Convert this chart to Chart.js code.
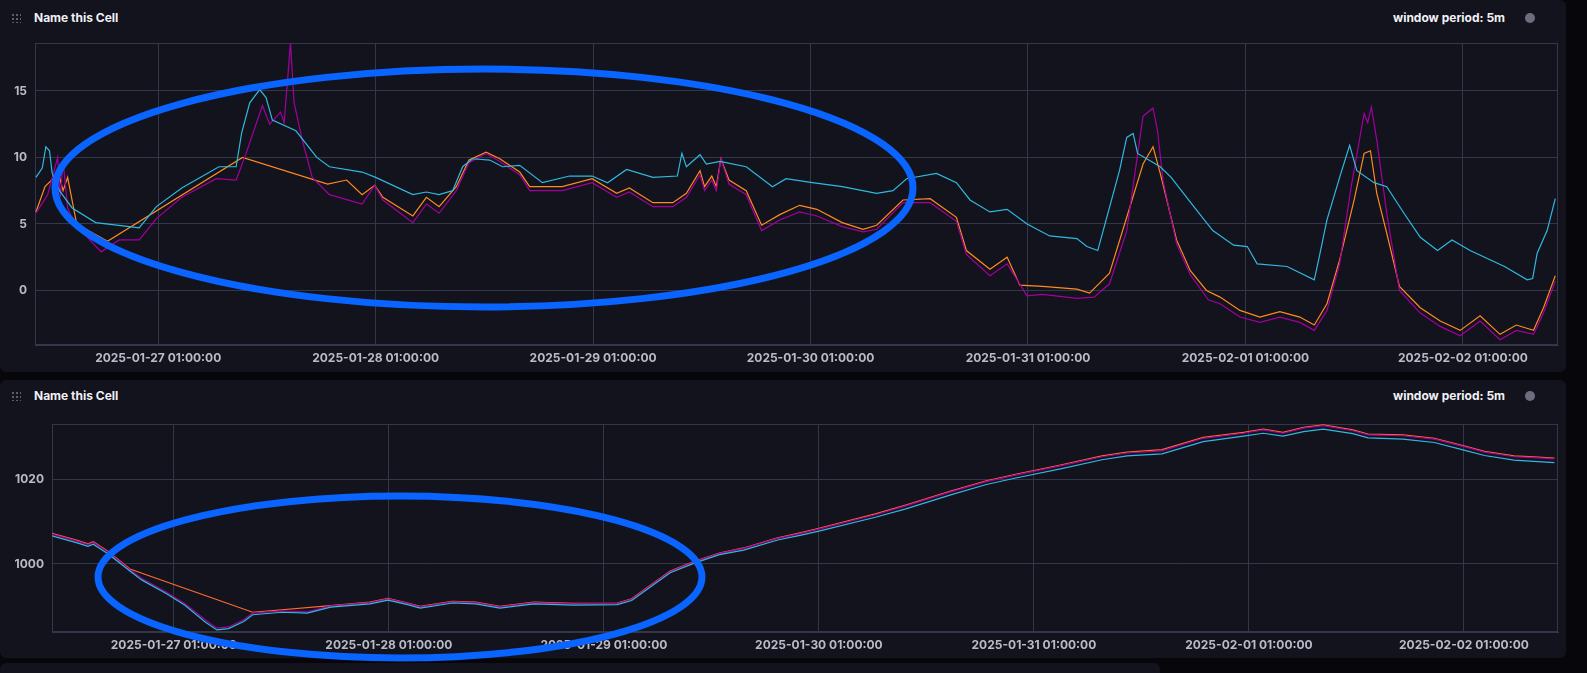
<!DOCTYPE html>
<html>
<head>
<meta charset="utf-8">
<script src="https://cdn.jsdelivr.net/npm/chart.js@4"></script>
<style>
    body { margin: 0; width: 1587px; height: 673px; background: #07070b; overflow: hidden; position: relative; font-family: Inter, "Open Sans", sans-serif; }
    .painel { position: absolute; left: 0; width: 1566px; background: #12131d; border-radius: 0 0 6px 6px; }
    .titulo { position: absolute; left: 34px; color: #f1f1f5; font-size: 12px; font-weight: 700; }
    .grip { position: absolute; left: 11px; width: 10px; height: 10px; background-image: radial-gradient(#5c5e70 1px, transparent 1.3px); background-size: 4px 4px; }
    .periodo { position: absolute; right: 61px; color: #f1f1f5; font-size: 12px; font-weight: 700; }
    .gear { position: absolute; left: 1525px; width: 10px; height: 10px; border-radius: 50%; border: 2px dotted #6c6e80; box-sizing: border-box; background: #6c6e80; }
    .chart { position: absolute; left: 0; width: 1566px; }
    svg { position: absolute; left: 0; top: 0; }
</style>
</head>
<body>
<div class="painel" style="top: 0; height: 372px; border-radius: 0 6px 6px 6px;">
    <div class="grip" style="top: 13px;"></div>
    <div class="titulo" style="top: 10px;">Name this Cell</div>
    <div class="periodo" style="top: 10px;">window period: 5m</div>
    <div class="gear" style="top: 13px;"></div>
</div>
<div class="painel" style="top: 380px; height: 278px; border-radius: 6px;">
    <div class="grip" style="top: 11px;"></div>
    <div class="titulo" style="top: 8px;">Name this Cell</div>
    <div class="periodo" style="top: 8px;">window period: 5m</div>
    <div class="gear" style="top: 11px;"></div>
</div>
<div class="painel" style="top: 663px; height: 20px; width: 1160px; border-radius: 6px;"></div>

<div class="chart" style="top: 43px; height: 330px;"><canvas id="chartTopo"></canvas></div>
<div class="chart" style="top: 424px; height: 236px;"><canvas id="chartBaixo"></canvas></div>

<svg width="1587" height="673">
    <ellipse cx="484" cy="188" rx="429" ry="119" fill="none" stroke="#0a64ff" stroke-width="7"/>
    <ellipse cx="400" cy="577" rx="302" ry="81" fill="none" stroke="#0a64ff" stroke-width="7"/>
</svg>

<script>
// horas a partir de 2025-01-27 01:00:00
const rotulosDias = ["2025-01-27 01:00:00", "2025-01-28 01:00:00", "2025-01-29 01:00:00", "2025-01-30 01:00:00",
    "2025-01-31 01:00:00", "2025-02-01 01:00:00", "2025-02-02 01:00:00"];

const topoCianoT = [-13.5, -12.8, -12.4, -12, -11.7, -10.9, -9.5, -6.9, -3.2, -2.1, -0.2, 2.6, 6.7, 8.6, 9.2, 10.1, 11.2, 11.9, 12.6, 15.2, 17.5, 18.9, 22.5, 24, 28.1, 29.6, 31, 32.5, 33.6, 34.7, 36.6, 38, 39.9, 42.4, 45.4, 47.9, 49.6, 51.7, 54.6, 57.3, 57.8, 58.3, 59.8, 60.5, 62, 64.9, 67.8, 69.3, 72.2, 75.5, 79.3, 81.1, 82.6, 85.9, 88.1, 89.6, 91.8, 93.7, 95.9, 98.4, 101.4, 102.5, 103.7, 104.3, 106.1, 106.9, 107.6, 108.1, 110.6, 111.8, 114.2, 115.7, 116.4, 118.7, 120.2, 121.3, 124.6, 127.6, 128.2, 129, 130.4, 131.5, 132.3, 134.2, 135.6, 137.5, 139.3, 141.2, 142.8, 144.8, 148.6, 151.1, 151.7, 152.2, 153.3, 154.2];
const topoCianoV = [8.5, 9.2, 10.8, 10.5, 8.8, 7.5, 6.2, 5.1, 4.8, 4.7, 6.3, 7.7, 9.3, 9.3, 11.8, 14.1, 15.1, 14.5, 12.8, 12.0, 10.0, 9.3, 8.9, 8.5, 7.2, 7.4, 7.2, 7.5, 9.3, 9.9, 9.8, 9.3, 9.4, 8.1, 8.6, 8.6, 8.1, 9.1, 8.5, 8.6, 10.3, 9.3, 10.2, 9.5, 9.7, 9.3, 7.8, 8.4, 8.1, 7.8, 7.3, 7.5, 8.4, 8.8, 8.1, 6.8, 5.9, 6.1, 5.0, 4.1, 3.9, 3.3, 3.0, 4.5, 9.0, 11.5, 11.8, 10.3, 9.3, 8.5, 6.4, 5.1, 4.5, 3.4, 3.3, 2.0, 1.8, 0.8, 2.7, 5.3, 8.5, 10.9, 9.0, 8.1, 7.8, 5.8, 4.0, 3.0, 3.8, 3.0, 1.8, 0.8, 0.9, 2.8, 4.5, 6.9];

const topoMagentaT = [-13.5, -12.2, -11.1, -10.8, -10.5, -10.0, -9.2, -6.3, -4.3, -2.1, -0.2, 2.6, 6.4, 8.6, 9.7, 11.5, 12.3, 13.5, 13.9, 14.6, 15.0, 15.9, 17, 18.9, 22.5, 23.9, 24.8, 28.1, 29.6, 31, 32.9, 34.3, 36.2, 37.7, 39.9, 41, 44.6, 47.9, 50.6, 52, 54.6, 56.8, 58.3, 59.8, 60.3, 61.1, 61.6, 62.1, 63, 64.9, 66.6, 68.6, 70.8, 72.7, 75.5, 77.8, 79.3, 82.2, 85.2, 88.1, 89.2, 91.8, 93.7, 95.9, 97.6, 101.4, 103.3, 105, 106.9, 108.7, 109.8, 110.3, 110.9, 112.4, 113.9, 115.9, 117.2, 119.4, 121.6, 123.8, 126, 127.6, 129, 130.4, 131.6, 133.1, 133.5, 133.9, 134.5, 135.6, 137, 139.3, 141.5, 143.7, 145.9, 148.1, 149.9, 151.8, 152.9, 154.2];
const topoMagentaV = [5.8, 7.2, 10.0, 7.0, 9.7, 6.2, 5.0, 2.9, 3.8, 3.8, 5.4, 7.0, 8.4, 8.3, 10.3, 13.9, 12.5, 13.4, 12.6, 18.6, 14.1, 11.3, 8.5, 7.2, 6.5, 7.9, 6.8, 5.1, 6.5, 5.8, 7.5, 9.6, 10.3, 9.7, 8.7, 7.5, 7.5, 8.1, 7.0, 7.4, 6.3, 6.3, 7.0, 8.7, 7.5, 8.3, 7.5, 9.9, 8.0, 7.2, 4.5, 5.3, 5.9, 5.6, 4.8, 4.4, 4.6, 6.6, 6.6, 5.2, 2.7, 1.1, 2.0, -0.4, -0.3, -0.6, -0.5, 0.5, 4.5, 13.1, 13.7, 12.0, 8.3, 3.5, 1.2, -0.7, -1.0, -2.0, -2.4, -2.0, -2.4, -3.0, -1.5, 2.0, 7.5, 13.3, 12.6, 13.8, 11.3, 5.8, 0.0, -1.7, -2.7, -3.4, -2.3, -3.7, -3.0, -3.3, -1.7, 0.7];

const topoLaranjaT = [-13.5, -12.5, -11, -10.5, -10, -9.0, -5.6, 9.3, 18.7, 20.8, 22.5, 23.9, 24.8, 28.1, 29.6, 31, 32.9, 34.3, 36.2, 37.7, 39.9, 41, 44.6, 47.9, 50.6, 52, 54.6, 56.8, 58.3, 59.8, 60.3, 61.1, 61.6, 62.1, 63, 64.9, 66.6, 68.6, 70.8, 72.7, 75.5, 77.8, 79.3, 82.2, 85.2, 88.1, 89.2, 91.8, 93.7, 95.1, 97.6, 101.4, 102.8, 105, 106.9, 108.7, 109.8, 110.6, 112.4, 113.9, 115.7, 117.2, 119.4, 121.6, 123.8, 126, 127.6, 129, 130.4, 132, 133.1, 133.8, 134.5, 135.6, 137, 139.3, 141.5, 143.7, 145.9, 148.1, 149.9, 151.8, 152.9, 154.2];
const topoLaranjaV = [5.9, 7.8, 8.8, 7.5, 8.5, 5.0, 3.7, 10.0, 8.0, 8.3, 7.2, 7.9, 7.0, 5.6, 7.0, 6.3, 7.8, 9.8, 10.4, 9.9, 8.9, 7.8, 7.8, 8.4, 7.3, 7.7, 6.6, 6.6, 7.3, 9.0, 7.8, 8.6, 7.8, 9.9, 8.3, 7.5, 4.9, 5.7, 6.4, 6.1, 5.1, 4.6, 4.9, 6.8, 6.9, 5.5, 3.0, 1.6, 2.5, 0.4, 0.3, 0.1, -0.2, 1.3, 5.5, 9.5, 10.8, 8.8, 3.8, 1.5, 0.0, -0.5, -1.5, -2.0, -1.6, -2.0, -2.6, -1.0, 2.3, 6.8, 10.3, 10.5, 7.3, 4.3, 0.3, -1.3, -2.3, -3.0, -1.9, -3.3, -2.6, -3.0, -1.3, 1.1];

const baixoT = [-13.6, -10.6, -9.6, -9, -7.4, -4.9, -3.6, -0.9, 1.2, 3.5, 4.8, 6.1, 7.8, 8.8, 12.1, 14.9, 17.5, 21.9, 23.9, 26.1, 27.5, 31.1, 33.7, 36.4, 40.2, 44.6, 49.5, 51.1, 55.4, 58.1, 60.9, 63.6, 67.4, 69.9, 72, 78.3, 81.7, 86.8, 90.7, 94.1, 99.1, 103.6, 106.4, 110.3, 114.9, 119.4, 121.6, 123.8, 126.1, 128.3, 131.6, 133.3, 137.2, 140.7, 144, 146.3, 149.6, 151.8, 154.1];
const baixoCianoV = [1006.7, 1004.9, 1004.2, 1004.7, 1002.5, 998.3, 996.2, 993.0, 990.2, 986.2, 984.3, 984.6, 986.3, 987.9, 988.5, 988.3, 989.7, 990.5, 991.4, 990.3, 989.5, 990.7, 990.5, 989.5, 990.5, 990.2, 990.3, 991.3, 997.9, 1000.2, 1002.2, 1003.3, 1005.7, 1006.8, 1007.8, 1011.1, 1013.1, 1016.5, 1018.9, 1020.5, 1022.7, 1024.8, 1025.7, 1026.2, 1029.1, 1030.4, 1031.1, 1030.4, 1031.5, 1032.1, 1031.0, 1030.0, 1029.7, 1028.9, 1027.1, 1025.8, 1024.7, 1024.4, 1024.1];
const baixoMagentaV = [1007.1, 1005.3, 1004.6, 1005.1, 1002.9, 998.6, 996.6, 993.4, 990.6, 986.7, 984.7, 985.0, 986.7, 988.3, 988.8, 988.6, 990.0, 990.8, 991.7, 990.6, 989.8, 991.0, 990.8, 989.8, 990.8, 990.5, 990.6, 991.6, 998.2, 1000.5, 1002.5, 1003.7, 1006.1, 1007.2, 1008.3, 1011.7, 1013.8, 1017.2, 1019.6, 1021.2, 1023.4, 1025.5, 1026.4, 1026.9, 1029.9, 1031.1, 1031.9, 1031.1, 1032.3, 1032.9, 1031.7, 1030.7, 1030.5, 1029.7, 1027.9, 1026.6, 1025.5, 1025.3, 1025.0];
const baixoLaranjaT = [-13.6, -10.6, -9.6, -9, -7.4, -4.9, 8.8, 17.5, 21.9, 23.9, 26.1, 27.5, 31.1, 33.7, 36.4, 40.2, 44.6, 49.5, 51.1, 55.4, 58.1, 60.9, 63.6, 67.4, 69.9, 72, 78.3, 81.7, 86.8, 90.7, 94.1, 99.1, 103.6, 106.4, 110.3, 114.9, 119.4, 121.6, 123.8, 126.1, 128.3, 131.6, 133.3, 137.2, 140.7, 144, 146.3, 149.6, 151.8, 154.1];
const baixoLaranjaV = [1007.3, 1005.5, 1004.8, 1005.3, 1003.1, 998.8, 988.5, 990.1, 990.9, 991.8, 990.7, 989.9, 991.1, 990.9, 989.9, 990.9, 990.6, 990.7, 991.7, 998.3, 1000.6, 1002.6, 1003.8, 1006.2, 1007.4, 1008.5, 1011.9, 1014.0, 1017.4, 1019.8, 1021.4, 1023.6, 1025.7, 1026.6, 1027.2, 1030.1, 1031.3, 1032.1, 1031.3, 1032.5, 1033.1, 1031.9, 1030.9, 1030.7, 1029.9, 1028.1, 1026.8, 1025.7, 1025.5, 1025.2];

const corCiano = "#2fb9e0";
const corMagenta = "#a3009e";
const corLaranja = "#ff8a1f";
const corGrade = "#34364a";
const corTexto = "#b9bcc8";

// moldura da área do gráfico (topo e direita)
const moldura = {
    id: 'moldura',
    beforeDatasetsDraw(chart) {
        const a = chart.chartArea;
        const ctx = chart.ctx;
        ctx.save();
        ctx.strokeStyle = corGrade;
        ctx.lineWidth = 1;
        ctx.strokeRect(a.left + 0.5, a.top + 0.5, a.right - a.left - 1, a.bottom - a.top - 1);
        ctx.restore();
    }
};

function juntar(t, v) {
    const pontos = [];
    for (let i = 0; i < t.length; i++) {
        pontos.push({ x: t[i], y: v[i] });
    }
    return pontos;
}

function serie(t, v, cor) {
    return { data: juntar(t, v), borderColor: cor, borderWidth: 1.2, pointRadius: 0, tension: 0, fill: false };
}

function criarGrafico(id, datasets, min, max, passo, larguraY) {
    return new Chart(document.getElementById(id), {
        type: 'line',
        data: { datasets },
        plugins: [moldura],
        options: {
            animation: false,
            responsive: true,
            maintainAspectRatio: false,
            layout: { padding: { right: 8, top: 0 } },
            plugins: { legend: { display: false }, tooltip: { enabled: false } },
            scales: {
                x: {
                    type: 'linear', min: -13.6, max: 154.5,
                    afterBuildTicks: (s) => { s.ticks = rotulosDias.map((r, i) => ({ value: i * 24 })); },
                    afterFit: (s) => { s.height = 28; s.paddingLeft = 0; s.paddingRight = 0; },
                    ticks: { color: corTexto, font: { family: 'Inter', size: 12, weight: '700' }, padding: 6, maxRotation: 0,
                        callback: (v) => rotulosDias[Math.round(v / 24)] },
                    grid: { color: corGrade, drawTicks: false },
                    border: { color: corGrade }
                },
                y: {
                    min, max,
                    afterBuildTicks: (s) => {
                        const t = [];
                        for (let v = Math.ceil(min / passo) * passo; v <= max; v += passo) t.push({ value: v });
                        s.ticks = t;
                    },
                    afterFit: (s) => { s.width = larguraY; s.paddingTop = 0; s.paddingBottom = 0; },
                    ticks: { color: corTexto, font: { family: 'Inter', size: 12, weight: '700' }, padding: 8,
                        callback: (v) => String(v) },
                    grid: { color: corGrade, drawTicks: false },
                    border: { color: corGrade }
                }
            }
        }
    });
}

criarGrafico('chartTopo', [
    serie(topoCianoT, topoCianoV, corCiano),
    serie(topoMagentaT, topoMagentaV, corMagenta),
    serie(topoLaranjaT, topoLaranjaV, corLaranja)
], -4.1, 18.6, 5, 35);

criarGrafico('chartBaixo', [
    serie(baixoT, baixoCianoV, corCiano),
    serie(baixoT, baixoMagentaV, corMagenta),
    serie(baixoLaranjaT, baixoLaranjaV, "#ff6b2c")
], 983.8, 1033.3, 20, 52);
</script>
</body>
</html>
